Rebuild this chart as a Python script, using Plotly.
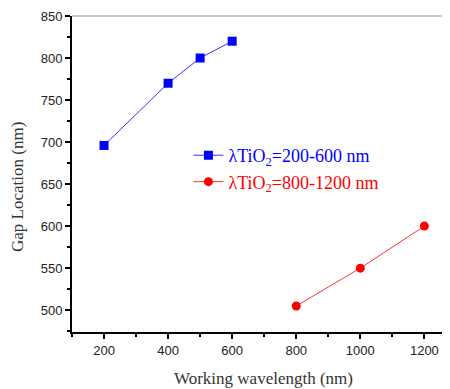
import plotly.graph_objects as go

x_blue = [200, 400, 500, 600]
y_blue = [696, 770, 800, 820]
x_red = [800, 1000, 1200]
y_red = [505, 550, 600]
name_blue = "λTiO<sub>2</sub>=200-600 nm"
name_red = "λTiO<sub>2</sub>=800-1200 nm"
x_title = "Working wavelength (nm)"
y_title = "Gap Location (nm)"

fig = go.Figure()
fig.add_trace(go.Scatter(x=x_blue, y=y_blue, mode="lines+markers",
                         name='<span style="color:#0000ff">' + name_blue + '</span>',
                         line=dict(color="#3333ff", width=1),
                         marker=dict(symbol="square", size=9, color="#0000ff")))
fig.add_trace(go.Scatter(x=x_red, y=y_red, mode="lines+markers",
                         name='<span style="color:#ff0000">' + name_red + '</span>',
                         line=dict(color="#ff3333", width=1),
                         marker=dict(symbol="circle", size=9, color="#ff0000")))

axis_common = dict(showgrid=False, zeroline=False, showline=True, linecolor="black",
                   linewidth=2, ticks="outside", ticklen=5, tickwidth=2, tickcolor="black",
                   automargin=False,
                   tickfont=dict(family="Arial, Liberation Sans", size=13, color="#222"))
fig.update_xaxes(range=[100, 1280], tickvals=[200, 400, 600, 800, 1000, 1200],
                 minor=dict(ticks="outside", ticklen=3, tickwidth=2, tickcolor="black", dtick=100, tick0=100),
                 **axis_common)
fig.update_yaxes(range=[474, 850], tickvals=[500, 550, 600, 650, 700, 750, 800, 850],
                 minor=dict(ticks="outside", ticklen=3, tickwidth=2, tickcolor="black", dtick=25, tick0=475),
                 **axis_common)
fig.add_shape(type="line", xref="paper", yref="paper", x0=0, x1=1, y0=1, y1=1,
              line=dict(color="#c8c8c8", width=2))
title_font = dict(family="Liberation Serif, Times New Roman", size=17, color="#333")
fig.add_annotation(text=x_title, xref="paper", yref="paper", x=(263 - 72) / 378, y=-(379 - 332) / 316,
                   xanchor="center", yanchor="middle", showarrow=False, font=title_font)
fig.add_annotation(text=y_title, xref="paper", yref="paper", x=-(72 - 17) / 378, y=(332 - 187) / 316,
                   xanchor="center", yanchor="middle", textangle=-90, showarrow=False, font=title_font)
fig.update_layout(width=442, height=381, margin=dict(l=64, r=0, t=8, b=57, autoexpand=False),
                  plot_bgcolor="white", paper_bgcolor="white", showlegend=True,
                  legend=dict(x=0.308, y=0.617, xanchor="left", yanchor="top",
                              bgcolor="rgba(0,0,0,0)", tracegroupgap=0,
                              font=dict(family="Liberation Serif, Times New Roman", size=18)))
fig.write_html("out.html")
